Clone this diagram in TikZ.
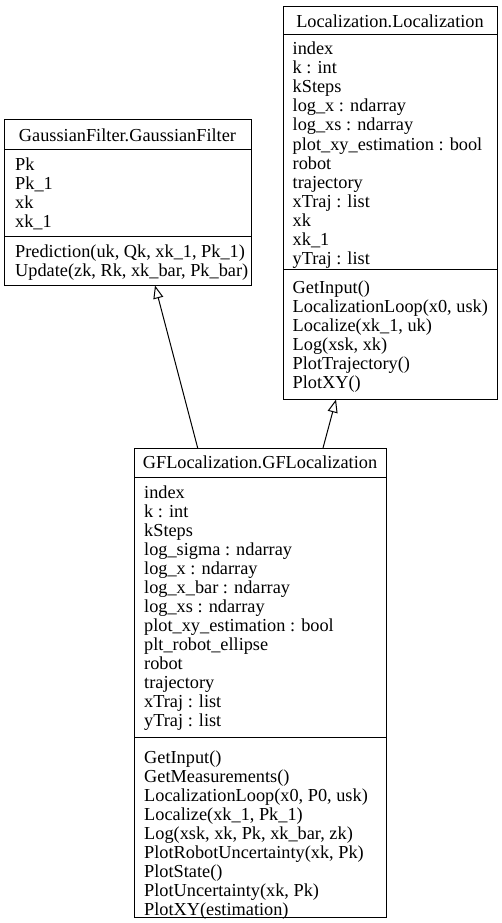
\documentclass[tikz,border=0pt]{standalone}
\usepackage{fontspec}
\setmainfont{Liberation Serif}
\usetikzlibrary{arrows.meta}
\tikzset{
  umlbox/.style={draw=black, line width=1pt, anchor=north west, inner sep=0pt},
  sep/.style={draw=black, line width=1pt},
  txt/.style={anchor=base west, inner sep=0pt, font=\fontsize{18.3}{19}\selectfont},
  ttl/.style={anchor=base, inner sep=0pt, font=\fontsize{18.3}{19}\selectfont},
  inherit/.style={draw=black, line width=1pt, -{Triangle[open, length=13pt, width=10pt]}}
}
\begin{document}
\begin{tikzpicture}[x=1pt, y=-1pt]
\useasboundingbox (0,0) rectangle (502,923);

% GaussianFilter
\node[umlbox, minimum width=247pt, minimum height=166pt] (gf) at (4,119) {};
\draw[sep] (4,149) -- (251,149);
\draw[sep] (4,236) -- (251,236);
\node[ttl] (gft) at (127.5,141) {GaussianFilter.GaussianFilter};
\foreach \t [count=\i] in {Pk, Pk\_1, xk, xk\_1}
  \node[txt] (gfa\i) at (15,{170+19*(\i-1)}) {\t};
\foreach \t [count=\i] in {{Prediction(uk, Qk, xk\_1, Pk\_1)}, {Update(zk, Rk, xk\_bar, Pk\_bar)}}
  \node[txt] (gfm\i) at (15,{257+19*(\i-1)}) {\t};

% Localization
\node[umlbox, minimum width=214pt, minimum height=393pt] (loc) at (283,6) {};
\draw[sep] (283,35) -- (497,35);
\draw[sep] (283,269) -- (497,269);
\node[ttl] (loct) at (390,28) {Localization.Localization};
\foreach \t [count=\i] in {index, k : int, kSteps, log\_x : ndarray, log\_xs : ndarray, plot\_xy\_estimation : bool, robot, trajectory, xTraj : list, xk, xk\_1, yTraj : list}
  \node[txt] (loca\i) at (292.5,{55+19*(\i-1)}) {\t};
\foreach \t [count=\i] in {GetInput(), {LocalizationLoop(x0, usk)}, {Localize(xk\_1, uk)}, {Log(xsk, xk)}, PlotTrajectory(), PlotXY()}
  \node[txt] (locm\i) at (292.5,{293+19*(\i-1)}) {\t};

% GFLocalization
\node[umlbox, minimum width=252pt, minimum height=469pt] (gfl) at (134,448) {};
\draw[sep] (134,477) -- (386,477);
\draw[sep] (134,737) -- (386,737);
\node[ttl] (gflt) at (260,468) {GFLocalization.GFLocalization};
\foreach \t [count=\i] in {index, k : int, kSteps, log\_sigma : ndarray, log\_x : ndarray, log\_x\_bar : ndarray, log\_xs : ndarray, plot\_xy\_estimation : bool, plt\_robot\_ellipse, robot, trajectory, xTraj : list, yTraj : list}
  \node[txt] (gfla\i) at (144,{498+19*(\i-1)}) {\t};
\foreach \t [count=\i] in {GetInput(), GetMeasurements(), {LocalizationLoop(x0, P0, usk)}, {Localize(xk\_1, Pk\_1)}, {Log(xsk, xk, Pk, xk\_bar, zk)}, {PlotRobotUncertainty(xk, Pk)}, PlotState(), {PlotUncertainty(xk, Pk)}, PlotXY(estimation)}
  \node[txt] (gflm\i) at (144,{763+19*(\i-1)}) {\t};

% inheritance connectors
\coordinate (e1s) at (197.7,448);
\coordinate (e1t) at (155,285.5);
\coordinate (e2s) at (323,448);
\coordinate (e2t) at (336,399.5);
\draw[inherit] (e1s) -- (e1t);
\draw[inherit] (e2s) -- (e2t);
\end{tikzpicture}
\end{document}
